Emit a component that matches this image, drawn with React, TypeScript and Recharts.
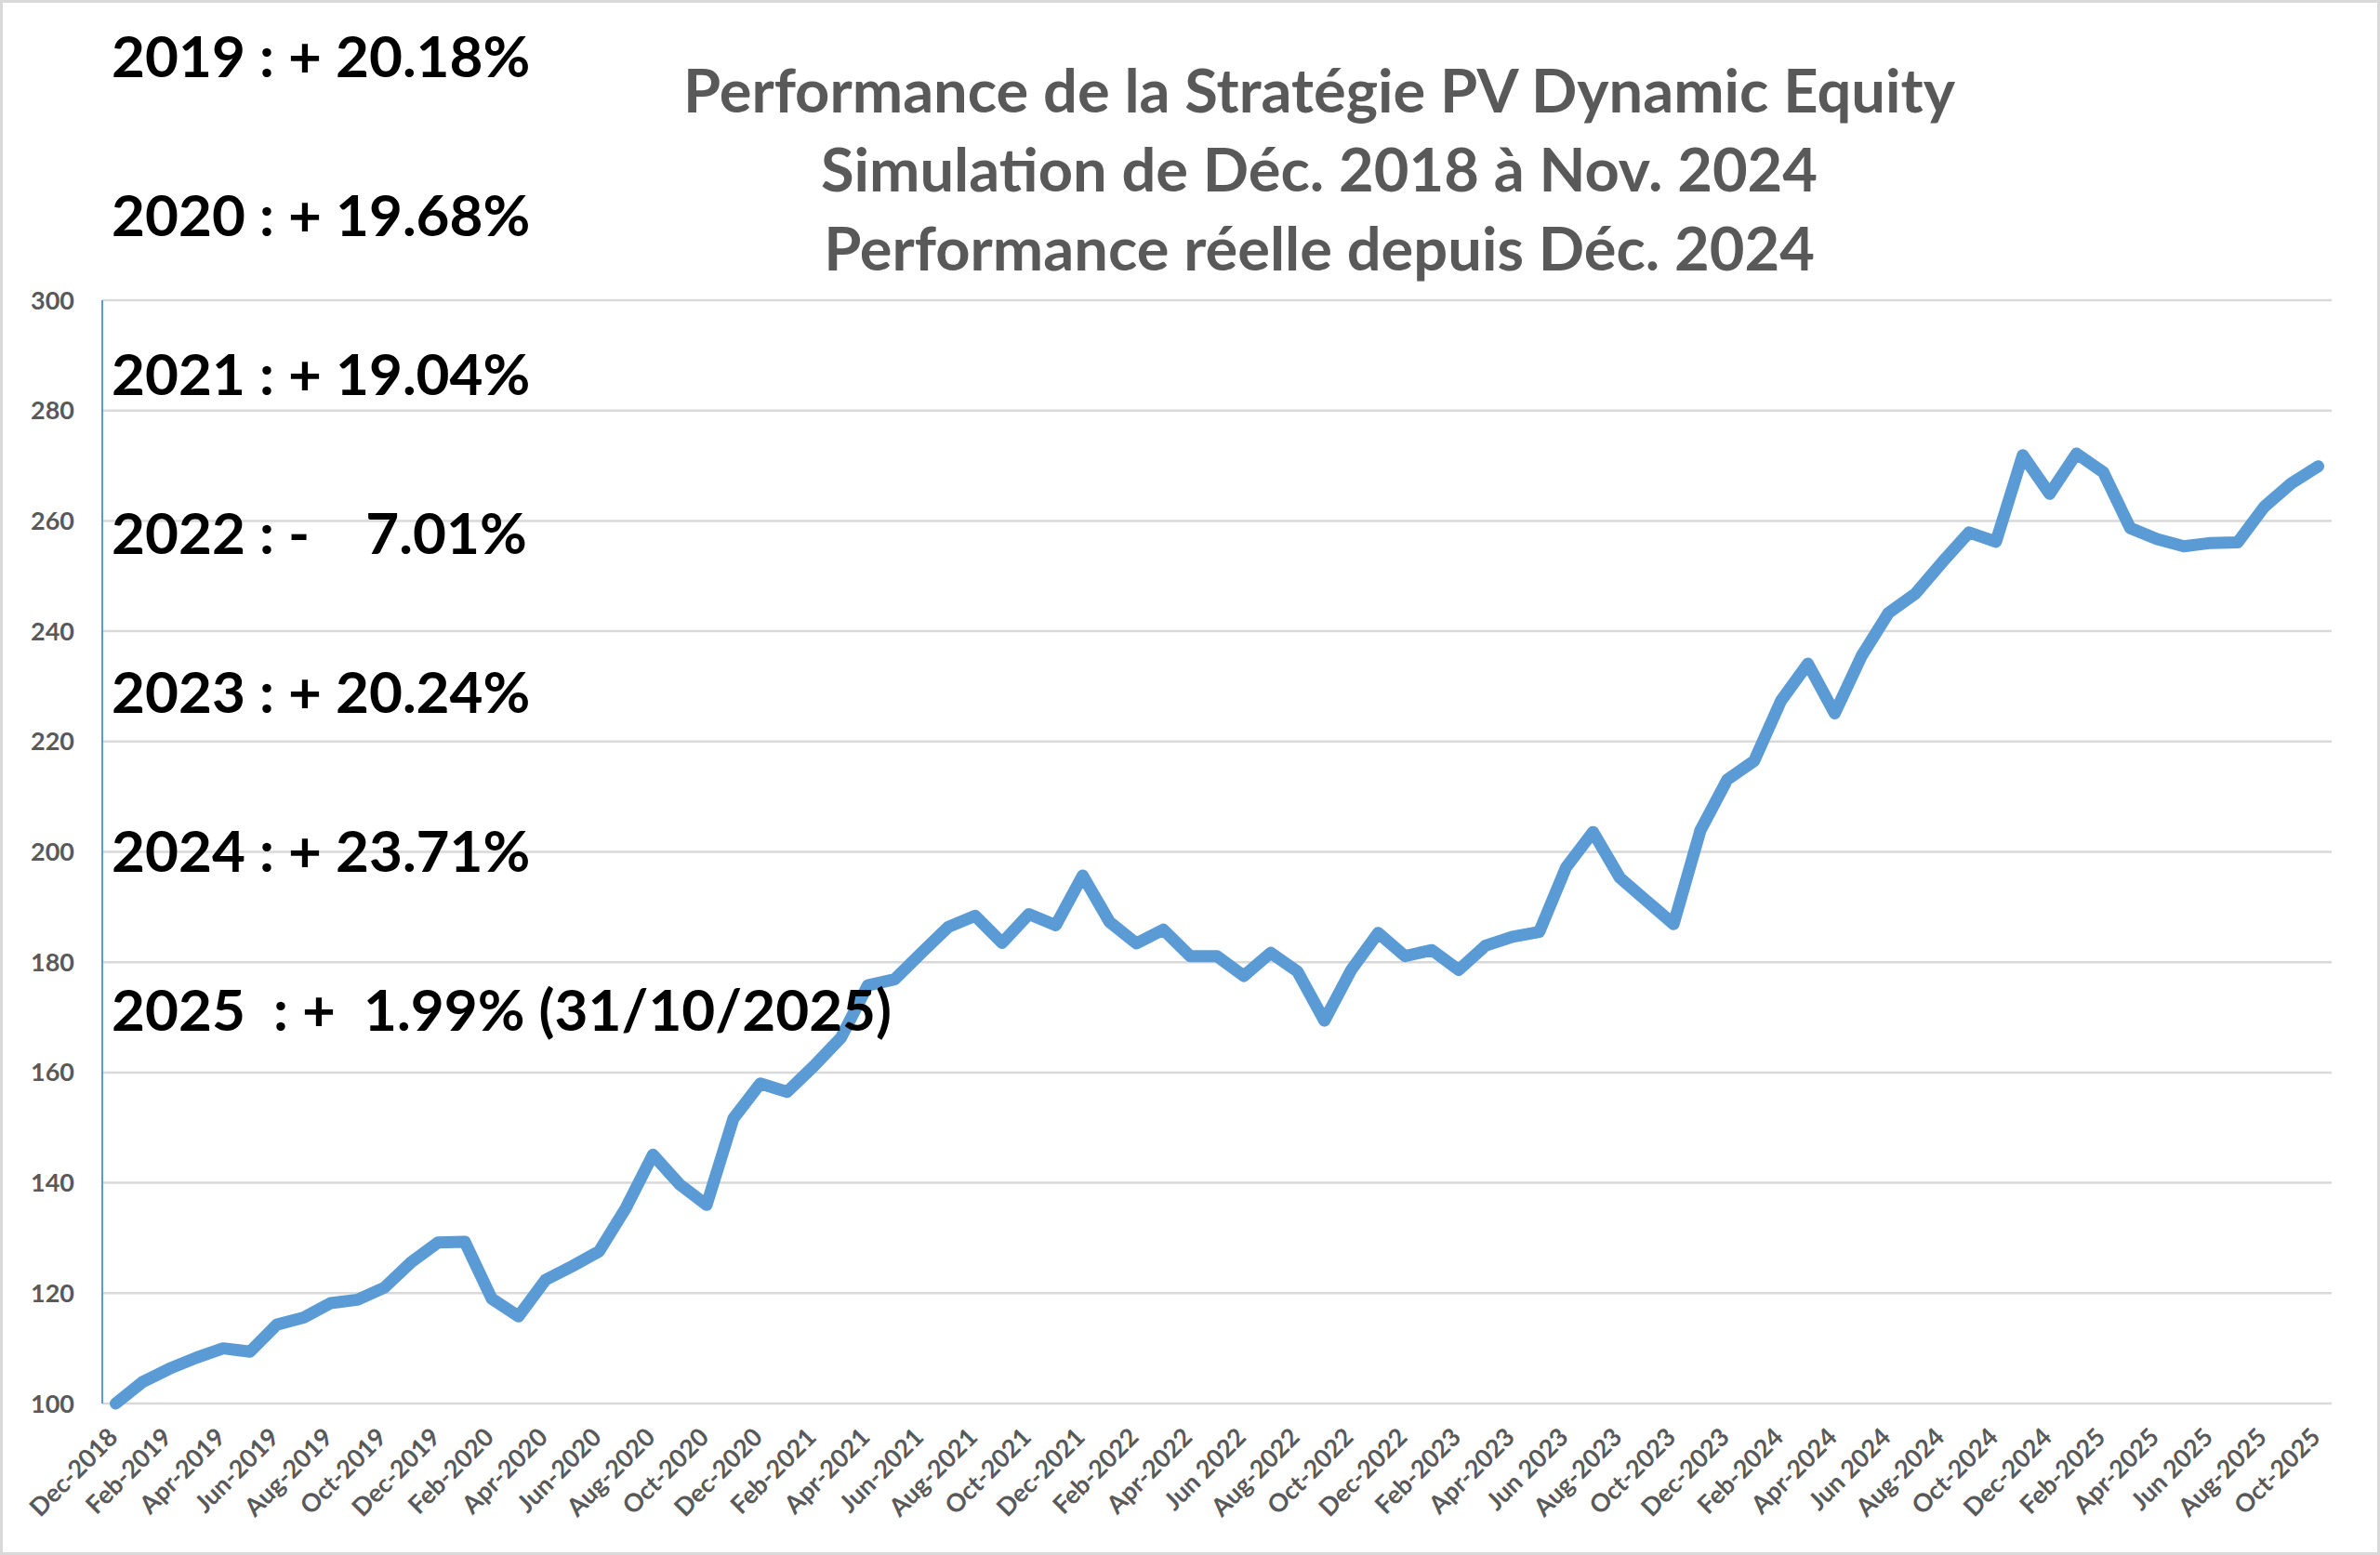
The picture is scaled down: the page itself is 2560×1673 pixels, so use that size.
import React from "react";
import { LineChart, Line, XAxis, YAxis, CartesianGrid } from "recharts";

// monthly points, Dec-2018 .. Oct-2025
const months = [
  "Dec-2018",
  "Jan-2019", "Feb-2019", "Mar-2019", "Apr-2019", "May-2019", "Jun-2019",
  "Jul-2019", "Aug-2019", "Sep-2019", "Oct-2019", "Nov-2019", "Dec-2019",
  "Jan-2020", "Feb-2020", "Mar-2020", "Apr-2020", "May-2020", "Jun-2020",
  "Jul-2020", "Aug-2020", "Sep-2020", "Oct-2020", "Nov-2020", "Dec-2020",
  "Jan-2021", "Feb-2021", "Mar-2021", "Apr-2021", "May-2021", "Jun-2021",
  "Jul-2021", "Aug-2021", "Sep-2021", "Oct-2021", "Nov-2021", "Dec-2021",
  "Jan-2022", "Feb-2022", "Mar-2022", "Apr-2022", "May-2022", "Jun 2022",
  "Jul-2022", "Aug-2022", "Sep-2022", "Oct-2022", "Nov-2022", "Dec-2022",
  "Jan-2023", "Feb-2023", "Mar-2023", "Apr-2023", "May-2023", "Jun 2023",
  "Jul-2023", "Aug-2023", "Sep-2023", "Oct-2023", "Nov-2023", "Dec-2023",
  "Jan-2024", "Feb-2024", "Mar-2024", "Apr-2024", "May-2024", "Jun 2024",
  "Jul-2024", "Aug-2024", "Sep-2024", "Oct-2024", "Nov-2024", "Dec-2024",
  "Jan-2025", "Feb-2025", "Mar-2025", "Apr-2025", "May-2025", "Jun 2025",
  "Jul-2025", "Aug-2025", "Sep-2025", "Oct-2025",
];

const values = [
  100,
  103.9, 106.3, 108.3, 110.0, 109.4, 114.3, 115.6, 118.2, 118.8, 121.0, 125.6, 129.2,
  129.3, 119.0, 115.8, 122.4, 124.9, 127.6, 135.5, 145.1, 139.7, 136.0, 151.7, 158.0,
  156.5, 161.2, 166.3, 175.8, 176.9, 181.7, 186.4, 188.4, 183.5, 188.7, 186.7, 195.7,
  187.3, 183.4, 185.9, 181.1, 181.1, 177.5, 181.7, 178.3, 169.4, 178.6, 185.3, 181.1,
  182.2, 178.6, 183.0, 184.6, 185.5, 197.2, 203.6, 195.3, 191.1, 186.9, 203.9, 213.1,
  216.5, 227.4, 234.1, 225.1, 235.5, 243.3, 246.8, 252.5, 257.9, 256.2, 271.9, 264.9,
  272.2, 268.8, 258.7, 256.7, 255.4, 256.0, 256.1, 262.6, 266.8, 269.9,
];

const yTicks = [100, 120, 140, 160, 180, 200, 220, 240, 260, 280, 300];

const titleLines = [
  "Performance de la Stratégie PV Dynamic Equity",
  "Simulation de Déc. 2018 à Nov. 2024",
  "Performance réelle depuis Déc. 2024",
];

const yearNotes = [
  "2019 : + 20.18%",
  "2020 : + 19.68%",
  "2021 : + 19.04%",
  "2022 : -    7.01%",
  "2023 : + 20.24%",
  "2024 : + 23.71%",
  "2025  : +  1.99% (31/10/2025)",
];

const data = months.map((month, i) => ({ month, value: values[i] }));

const FONT = "Lato, 'Open Sans', sans-serif";

function MonthTick(props: any) {
  const { x, y, payload } = props;
  const tx = x + 4;
  const ty = y + 30;
  return (
    <text
      x={tx}
      y={ty}
      transform={`rotate(-45, ${tx}, ${ty})`}
      textAnchor="end"
      fill="#595959"
      fontSize={27}
      fontWeight={700}
      fontFamily={FONT}
    >
      {payload.value}
    </text>
  );
}

export default function App() {
  return (
    <div style={{ position: "relative", width: 2560, height: 1673, background: "#fff" }}>
      <style>{`body{margin:0}`}</style>
      <LineChart
        width={2560}
        height={1673}
        data={data}
        margin={{ top: 323, right: 52, bottom: 0, left: 30 }}
      >
        <CartesianGrid vertical={false} stroke="#d9d9d9" strokeWidth={2.5} />
        <XAxis
          dataKey="month"
          interval={1}
          height={163}
          tickLine={false}
          axisLine={false}
          padding={{ left: 14.45, right: 14.45 }}
          tick={(p: any) => <MonthTick {...p} />}
        />
        <YAxis
          width={80}
          domain={[100, 300]}
          ticks={yTicks}
          tickLine={false}
          tickMargin={24}
          axisLine={{ stroke: "#5b9bd5", strokeWidth: 2 }}
          tick={{ fill: "#595959", fontSize: 27, fontWeight: 700, fontFamily: FONT }}
        />
        <Line
          type="linear"
          dataKey="value"
          stroke="#5b9bd5"
          strokeWidth={13}
          strokeLinejoin="round"
          strokeLinecap="round"
          dot={false}
          activeDot={false}
          isAnimationActive={false}
        />
      </LineChart>

      <svg
        width={2560}
        height={1673}
        style={{ position: "absolute", left: 0, top: 0, pointerEvents: "none" }}
      >
        {titleLines.map((t, i) => (
          <text
            key={t}
            x={1419}
            y={121 + i * 85}
            textAnchor="middle"
            fill="#595959"
            fontSize={65}
            fontWeight={700}
            fontFamily={FONT}
          >
            {t}
          </text>
        ))}
        {yearNotes.map((t, i) => (
          <text
            key={t}
            x={120}
            y={83 + i * 171}
            fill="#000"
            fontSize={62}
            fontWeight={700}
            fontFamily={FONT}
            style={{ whiteSpace: "pre" }}
          >
            {t}
          </text>
        ))}
      </svg>
      <div
        style={{
          position: "absolute",
          inset: 0,
          border: "3px solid #d9d9d9",
          pointerEvents: "none",
        }}
      />
    </div>
  );
}
